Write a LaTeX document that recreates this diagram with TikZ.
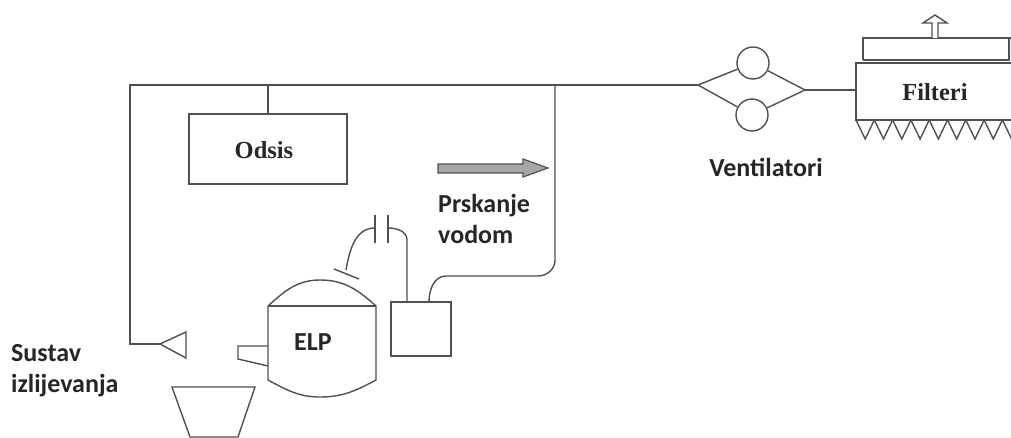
\documentclass[tikz,border=0pt]{standalone}
\usepackage{fontspec}
\setmainfont{Carlito}
\newfontfamily\serifbold{Liberation Serif}
\definecolor{linegray}{HTML}{505050}
\tikzset{
    pipe/.style={draw=linegray, line width=1.4pt},
    unitbox/.style={pipe, rectangle, inner sep=0pt},
    fan/.style={pipe, circle, inner sep=0pt, minimum size=32pt},
    label/.style={font=\fontsize{26}{31.5}\selectfont\bfseries, text=black!85, inner sep=0pt, align=left},
    seriflabel/.style={font=\serifbold\fontsize{24.5}{26}\selectfont\bfseries, text=black!85, inner sep=0pt}
}
\begin{document}
\begin{tikzpicture}[x=1pt, y=-1pt]
            \useasboundingbox (0,0) rectangle (1011,438);
            \node[unitbox, minimum width=158pt, minimum height=70pt] (odsis) at (268,149) {};
            \node[seriflabel] (odsislabel) at (264,150) {Odsis};
            \node[unitbox, minimum width=60pt, minimum height=54pt] (pump) at (421,329) {};
            \node[fan] (fantop) at (753,63) {};
            \node[fan] (fanbot) at (752,115) {};
            \coordinate (fanin) at (698,85);
            \coordinate (fanout) at (805,90);
            \coordinate (linestart) at (130,344);
            \coordinate (linecorner) at (130,85);
            \coordinate (branch) at (555,85);
            \coordinate (nozzle) at (160,344);
            \coordinate (capend) at (346,270);
            \coordinate (plateleft) at (375,228);
            \coordinate (plateright) at (388,228);
            \coordinate (filterin) at (856,90);
            \draw[pipe] (nozzle) -- (linestart) -- (linecorner) -- (fanin);
            \draw[pipe] (odsis.north) -- (odsis.north |- branch);
            \draw[pipe] (branch) -- (555,260) to[out=-90, in=0] (538,276) -- (446,276) to[out=180, in=90] (429,302);
            \draw[pipe] (407,302) -- (407,240) to[out=90, in=0] (plateright);
            \draw[pipe] (plateleft) to[out=180, in=80] (capend);
            \draw[pipe] (375,215) -- (375,243);
            \draw[pipe] (388,215) -- (388,243);
            \draw[pipe] (334,269) -- (359,279);
            \draw[pipe] (nozzle) -- (186,332) -- (186,358) -- cycle;
            \draw[pipe] (268,306) to[out=42, in=180] (320,280) to[out=0, in=138] (376,306) -- (376,380) to[out=-152, in=0] (320,397) to[out=180, in=-28] (268,380) -- cycle;
            \draw[pipe, line width=2pt] (268,306) -- (376,306);
            \draw[pipe] (268,346) -- (238,346) -- (238,359) -- (268,366);
            \draw[pipe] (172,387) -- (255,387) -- (238,437) -- (190,437) -- cycle;
            \node[label] (elp) at (313,342) {ELP};
            \draw[linegray, line width=1.2pt, fill=gray!70] (438,164) -- (523,164) -- (523,159) -- (548,168) -- (523,177) -- (523,173) -- (438,173) -- cycle;
            \node[label, anchor=north west] (spray) at (438,194) {Prskanje\\vodom};
            \node[label, anchor=north west] (casting) at (11,344) {Sustav\\izlijevanja};
            \draw[pipe] (fanin) -- (fantop) -- (fanout) -- (fanbot) -- (fanin);
            \node[label] (fans) at (766,167) {Ventilatori};
            \draw[pipe] (fanout) -- (filterin);
            \draw[pipe] (1011,63) -- (856,63) -- (856,120) -- (1011,120);
            \draw[pipe] (863,60) -- (863,38) -- (1011,38);
            \draw[pipe] (863,60) -- (1009,60) -- (1009,38);
            \node[seriflabel] (filters) at (935,92) {Filteri};
            \foreach \i in {0,...,8} {
                \draw[pipe] ({856+18.3*\i},120) -- ({865.2+18.3*\i},139) -- ({874.3+18.3*\i},120);
            }
            \draw[pipe, fill=white] (932,38) -- (932,23) -- (923,23) -- (935,15) -- (947,23) -- (938,23) -- (938,38);
        \end{tikzpicture}
\end{document}
